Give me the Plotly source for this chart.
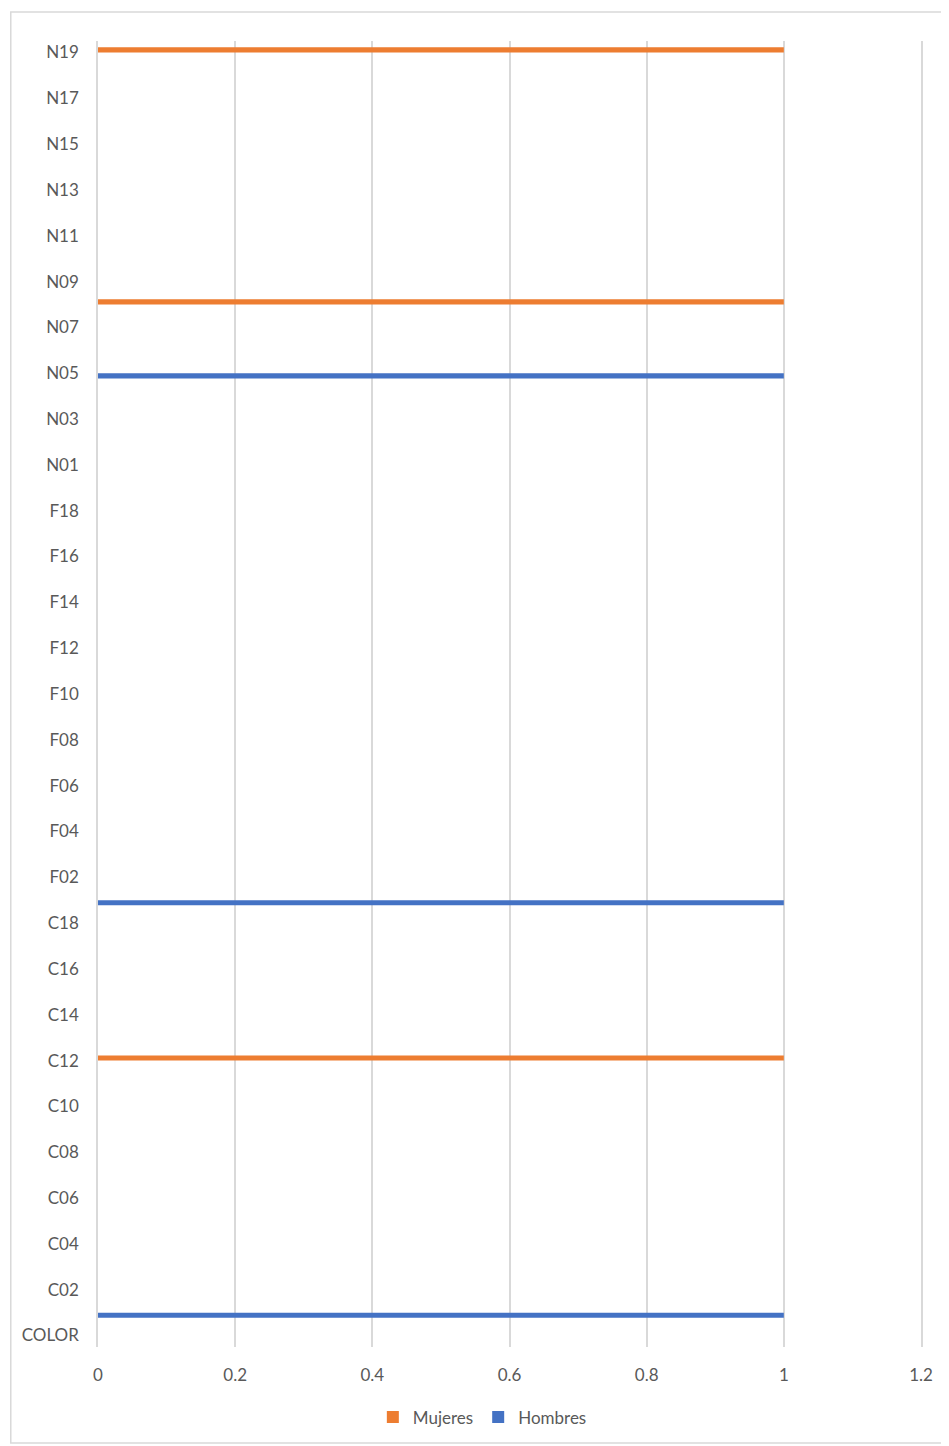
import plotly.graph_objects as go

categories = [
    "COLOR",
    "C01", "C02", "C03", "C04", "C05", "C06", "C07", "C08", "C09",
    "C10", "C11", "C12", "C13", "C14", "C15", "C16", "C17", "C18",
    "F01", "F02", "F03", "F04", "F05", "F06", "F07", "F08", "F09", "F10",
    "F11", "F12", "F13", "F14", "F15", "F16", "F17", "F18", "F19",
    "N01", "N02", "N03", "N04", "N05", "N06", "N07", "N08", "N09", "N10",
    "N11", "N12", "N13", "N14", "N15", "N16", "N17", "N18", "N19",
]

mujeres = [
    0,
    0, 0, 0, 0, 0, 0, 0, 0, 0,
    0, 0, 1, 0, 0, 0, 0, 0, 0,
    0, 0, 0, 0, 0, 0, 0, 0, 0, 0,
    0, 0, 0, 0, 0, 0, 0, 0, 0,
    0, 0, 0, 0, 0, 0, 0, 1, 0, 0,
    0, 0, 0, 0, 0, 0, 0, 0, 1,
]

hombres = [
    0,
    1, 0, 0, 0, 0, 0, 0, 0, 0,
    0, 0, 0, 0, 0, 0, 0, 0, 0,
    1, 0, 0, 0, 0, 0, 0, 0, 0, 0,
    0, 0, 0, 0, 0, 0, 0, 0, 0,
    0, 0, 0, 0, 1, 0, 0, 0, 0, 0,
    0, 0, 0, 0, 0, 0, 0, 0, 0,
]

shown_labels = [
    "COLOR", "C02", "C04", "C06", "C08", "C10", "C12", "C14", "C16", "C18",
    "F02", "F04", "F06", "F08", "F10", "F12", "F14", "F16", "F18",
    "N01", "N03", "N05", "N07", "N09", "N11", "N13", "N15", "N17", "N19",
]

x_ticks = [0, 0.2, 0.4, 0.6, 0.8, 1, 1.2]
x_ticktext = ["0", "0.2", "0.4", "0.6", "0.8", "1", "1.2"]

FONT = "Lato, Open Sans, sans-serif"
GRAY = "#595959"
GRID = "#d9d9d9"

fig = go.Figure()
fig.add_trace(go.Bar(
    name="Hombres", y=categories, x=hombres, orientation="h",
    marker=dict(color="#4472c4", line=dict(width=0)), legendrank=2,
))
fig.add_trace(go.Bar(
    name="Mujeres", y=categories, x=mujeres, orientation="h",
    marker=dict(color="#ed7d31", line=dict(width=0)), legendrank=1,
))

fig.update_layout(
    width=949, height=1446,
    margin=dict(l=90, r=36, t=33, b=107, pad=0),
    paper_bgcolor="white", plot_bgcolor="white",
    barmode="group", bargap=0.55, bargroupgap=0,
    font=dict(family=FONT, size=17, color=GRAY),
    showlegend=True,
    legend=dict(
        orientation="h", x=0.467, xanchor="center", y=-0.054, yanchor="middle",
        font=dict(family=FONT, size=17, color=GRAY),
        itemwidth=30, traceorder="normal",
    ),
    shapes=[dict(
        type="rect", xref="paper", yref="paper",
        x0=-0.106, x1=1.06, y0=-0.0735, y1=1.0222,
        line=dict(color=GRID, width=1.5), fillcolor="rgba(0,0,0,0)", layer="below",
    )],
)

fig.update_xaxes(
    range=[0, 1.2], tickvals=x_ticks, ticktext=x_ticktext,
    showgrid=True, gridcolor=GRID, gridwidth=1.5, zeroline=False,
    showline=False, ticks="", ticklabelstandoff=16,
    tickfont=dict(family=FONT, size=17, color=GRAY), fixedrange=True,
)
fig.update_yaxes(
    type="category", categoryorder="array", categoryarray=categories,
    range=[-0.5, len(categories) - 0.5],
    tickvals=shown_labels, ticktext=shown_labels,
    showgrid=False, zeroline=False,
    showline=True, linecolor=GRID, linewidth=1.5, mirror=True,
    ticks="", ticklabelstandoff=14,
    tickfont=dict(family=FONT, size=17, color=GRAY), fixedrange=True,
)

fig.write_html("out.html")
